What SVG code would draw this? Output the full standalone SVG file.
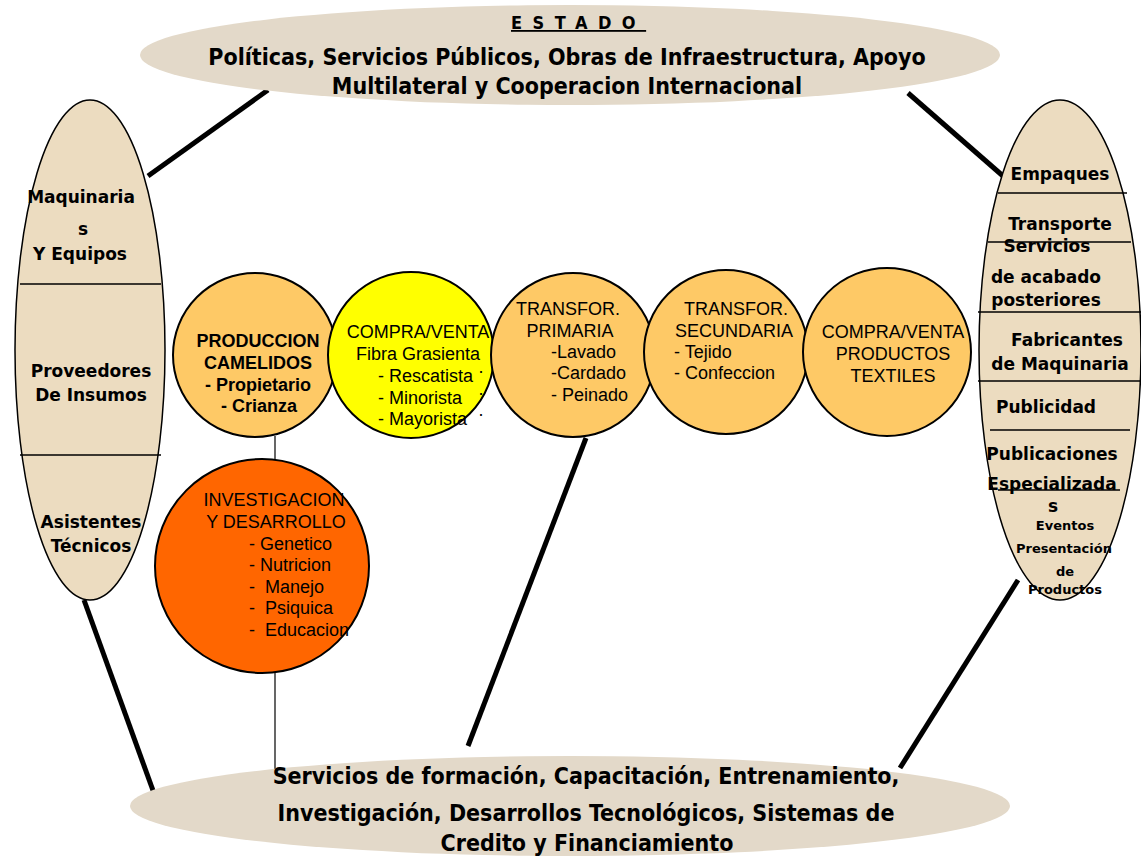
<svg xmlns="http://www.w3.org/2000/svg" width="1141" height="857" viewBox="0 0 1141 857">
<style>
.wide{fill:#e3d9c9;stroke:none}
.side{fill:#ecdcc0;stroke:#000;stroke-width:1.5}
.div{stroke:#000;stroke-width:1.5}
.thick{stroke:#000;stroke-width:5;fill:none}
.thin{stroke:#000;stroke-width:1.2;fill:none}
.c{stroke:#000;stroke-width:2}
.big{font-family:"DejaVu Sans Condensed","DejaVu Sans",sans-serif;font-weight:bold;font-size:23px;fill:#000;text-anchor:middle}
.sb{font-family:"DejaVu Sans","Liberation Sans",sans-serif;font-weight:bold;font-size:17px;fill:#000;text-anchor:middle}
.ss{font-family:"DejaVu Sans","Liberation Sans",sans-serif;font-weight:bold;font-size:13px;fill:#000;text-anchor:middle}
.a{font-family:"Liberation Sans",Arial,sans-serif;font-size:18px;fill:#000}
.ab{font-family:"Liberation Sans",Arial,sans-serif;font-size:18px;font-weight:bold;fill:#000;text-anchor:middle}
.m{text-anchor:middle}
</style>
<rect width="1141" height="857" fill="#fff"/>
<g id="connectors">
<line class="thick" x1="268" y1="90" x2="148" y2="176"/>
<line class="thick" x1="908" y1="93" x2="1003" y2="176"/>
<line class="thick" x1="84" y1="600" x2="155" y2="796"/>
<line class="thick" x1="1018" y1="580" x2="900" y2="768"/>
<line class="thick" x1="586" y1="438" x2="468" y2="746"/>
<line class="thin" x1="275" y1="436" x2="275" y2="772"/>
</g>
<g id="estado">
<ellipse class="wide" cx="570" cy="55" rx="430" ry="50"/>
<text x="511" y="29" font-family="DejaVu Sans Condensed,DejaVu Sans,sans-serif" font-weight="bold" font-size="18" letter-spacing="10.5" text-decoration="underline">ESTADO</text>
<text class="big" x="567" y="65">Políticas, Servicios Públicos, Obras de Infraestructura, Apoyo</text>
<text class="big" x="567" y="94">Multilateral y Cooperacion Internacional</text>
</g>
<g id="servicios">
<ellipse class="wide" cx="570" cy="806" rx="440" ry="50"/>
<text class="big" x="586" y="784">Servicios de formación, Capacitación, Entrenamiento,</text>
<text class="big" x="586" y="821">Investigación, Desarrollos Tecnológicos, Sistemas de</text>
<text class="big" x="587" y="851">Credito y Financiamiento</text>
</g>
<g id="proveedores">
<ellipse class="side" cx="90" cy="350" rx="75" ry="250"/>
<line class="div" x1="20" y1="284" x2="161" y2="284"/>
<line class="div" x1="20" y1="455" x2="161" y2="455"/>
<text class="sb" x="81" y="203">Maquinaria</text>
<text class="sb" x="83" y="235">s</text>
<text class="sb" x="80" y="260">Y Equipos</text>
<text class="sb" x="91" y="377">Proveedores</text>
<text class="sb" x="91" y="401">De Insumos</text>
<text class="sb" x="91" y="528">Asistentes</text>
<text class="sb" x="91" y="552">Técnicos</text>
</g>
<g id="servicios-apoyo">
<ellipse class="side" cx="1060" cy="350" rx="81" ry="250"/>
<line class="div" x1="998" y1="193" x2="1127" y2="193"/>
<line class="div" x1="988" y1="242" x2="1131" y2="242"/>
<line class="div" x1="978" y1="312" x2="1141" y2="312"/>
<line class="div" x1="978" y1="381" x2="1141" y2="381"/>
<line class="div" x1="990" y1="430" x2="1130" y2="430"/>
<line class="div" x1="998" y1="490" x2="1120" y2="490"/>
<text class="sb" x="1060" y="180">Empaques</text>
<text class="sb" x="1060" y="230">Transporte</text>
<text class="sb" x="1047" y="252">Servicios</text>
<text class="sb" x="1046" y="283">de acabado</text>
<text class="sb" x="1046" y="306">posteriores</text>
<text class="sb" x="1067" y="346">Fabricantes</text>
<text class="sb" x="1060" y="370">de Maquinaria</text>
<text class="sb" x="1046" y="413">Publicidad</text>
<text class="sb" x="1052" y="460">Publicaciones</text>
<text class="sb" x="1052" y="490">Especializada</text>
<text class="sb" x="1053" y="512">s</text>
<text class="ss" x="1065" y="530">Eventos</text>
<text class="ss" x="1064" y="553">Presentación</text>
<text class="ss" x="1065" y="576">de</text>
<text class="ss" x="1065" y="594">Productos</text>
</g>
<g id="investigacion">
<circle class="c" cx="262" cy="566" r="107" fill="#ff6600"/>
<text class="a m" x="274" y="506">INVESTIGACION</text>
<text class="a m" x="276" y="528">Y DESARROLLO</text>
<text class="a" x="249" y="550">- Genetico</text>
<text class="a" x="249" y="571">- Nutricion</text>
<text class="a" x="249" y="593" xml:space="preserve">-  Manejo</text>
<text class="a" x="249" y="614" xml:space="preserve">-  Psiquica</text>
<text class="a" x="249" y="636" xml:space="preserve">-  Educacion</text>
</g>
<g id="produccion">
<circle class="c" cx="255" cy="355" r="82" fill="#fec966"/>
<text class="ab" x="258" y="347">PRODUCCION</text>
<text class="ab" x="258" y="369">CAMELIDOS</text>
<text class="ab" x="258" y="391">- Propietario</text>
<text class="ab" x="259" y="412">- Crianza</text>
</g>
<g id="compra-fibra">
<circle class="c" cx="411" cy="355" r="83" fill="#ffff00"/>
<text class="a m" x="418" y="338">COMPRA/VENTA</text>
<text class="a m" x="418" y="360">Fibra Grasienta</text>
<text class="a" x="378" y="382">- Rescatista</text>
<text class="a" x="378" y="404">- Minorista</text>
<text class="a" x="378" y="425">- Mayorista</text>
<text class="a" x="478" y="377" font-size="10">·</text>
<text class="a" x="478" y="399" font-size="10">·</text>
<text class="a" x="478" y="420" font-size="10">·</text>
</g>
<g id="primaria">
<circle class="c" cx="573" cy="355" r="82" fill="#fec966"/>
<text class="a m" x="568" y="315">TRANSFOR.</text>
<text class="a m" x="570" y="337">PRIMARIA</text>
<text class="a" x="551" y="358">-Lavado</text>
<text class="a" x="551" y="379">-Cardado</text>
<text class="a" x="551" y="401">- Peinado</text>
</g>
<g id="secundaria">
<circle class="c" cx="726" cy="352" r="82" fill="#fec966"/>
<text class="a m" x="736" y="315">TRANSFOR.</text>
<text class="a m" x="734" y="337">SECUNDARIA</text>
<text class="a" x="674" y="358">- Tejido</text>
<text class="a" x="674" y="379">- Confeccion</text>
</g>
<g id="compra-textiles">
<circle class="c" cx="887" cy="352" r="84" fill="#fec966"/>
<text class="a m" x="893" y="338">COMPRA/VENTA</text>
<text class="a m" x="893" y="360">PRODUCTOS</text>
<text class="a m" x="893" y="382">TEXTILES</text>
</g>
</svg>
